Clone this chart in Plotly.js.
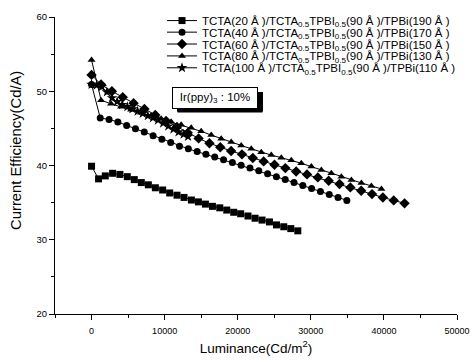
<!DOCTYPE html>
<html>
<head>
<meta charset="utf-8">
<script src="https://cdn.plot.ly/plotly-3.0.1.min.js"></script>
<style>html,body{margin:0;padding:0;background:#fff;}#chart{width:473px;height:363px;}</style>
</head>
<body>
<div id="chart"></div>
<script>
// Series 1: TCTA(20 Å) — squares
const xA = [0, 960, 1880, 2880, 3880, 4890, 5850, 6810, 7770, 8730, 9730, 10690, 11690, 12650, 13660, 14620, 15580, 16540, 17540, 18500, 19450, 20400, 21400, 22370, 23330, 24340, 25300, 26300, 27260, 28220];
const yA = [39.9, 38.2, 38.6, 38.95, 38.8, 38.5, 38.1, 37.7, 37.4, 37.0, 36.7, 36.3, 36.0, 35.7, 35.35, 35.1, 34.8, 34.5, 34.3, 34.0, 33.7, 33.5, 33.2, 32.9, 32.65, 32.4, 32.0, 31.75, 31.5, 31.2];
// Series 2: TCTA(40 Å) — circles
const xB = [0, 1190, 2395, 3600, 4805, 6010, 7215, 8420, 9625, 10830, 12035, 13240, 14445, 15650, 16855, 18060, 19265, 20470, 21675, 22880, 24085, 25290, 26495, 27700, 28905, 30110, 31315, 32520, 33725, 34930];
const yB = [50.9, 46.4, 46.2, 45.87, 45.4, 44.95, 44.5, 44.0, 43.55, 43.1, 42.6, 42.24, 41.87, 41.5, 41.14, 40.77, 40.4, 40.04, 39.67, 39.3, 38.9, 38.5, 38.1, 37.7, 37.3, 36.9, 36.5, 36.1, 35.7, 35.3];
// Series 3: TCTA(60 Å) — diamonds
const xC = [0, 1300, 2783, 4266, 5749, 7232, 8715, 10198, 11681, 13164, 14647, 16130, 17613, 19096, 20579, 22062, 23545, 25028, 26511, 27994, 29477, 30960, 32443, 33926, 35409, 36892, 38375, 39858, 41341, 42824];
const yC = [52.2, 50.9, 50.0, 49.2, 48.4, 47.6, 46.8, 46.0, 45.2, 44.4, 43.65, 43.0, 42.45, 41.95, 41.5, 41.0, 40.55, 40.1, 39.65, 39.2, 38.8, 38.4, 37.95, 37.5, 37.05, 36.6, 36.15, 35.7, 35.3, 34.9];
// Series 4: TCTA(80 Å) — triangles
const xD = [0, 1300, 2670, 4040, 5410, 6780, 8150, 9520, 10890, 12260, 13630, 15000, 16370, 17740, 19110, 20480, 21850, 23220, 24590, 25960, 27330, 28700, 30070, 31440, 32810, 34180, 35550, 36920, 38290, 39660];
const yD = [54.2, 48.8, 48.3, 47.9, 47.5, 47.1, 46.7, 46.3, 45.9, 45.5, 45.1, 44.6, 44.1, 43.6, 43.15, 42.7, 42.25, 41.8, 41.4, 41.05, 40.7, 40.3, 39.85, 39.4, 38.95, 38.5, 38.05, 37.65, 37.25, 36.85];
// Series 5: TCTA(100 Å) — stars
const xE = [0, 700, 1400, 2100, 2800, 3500, 4200, 4900, 5600, 6300, 7000, 7700, 8400, 9100, 9800, 10500, 11200, 11900, 12600, 13200];
const yE = [50.9, 50.8, 50.6, 49.9, 49.1, 48.6, 48.2, 47.9, 47.6, 47.3, 47.0, 46.7, 46.4, 46.1, 45.7, 45.3, 44.9, 44.5, 44.2, 43.9];

const seriesNames = [
  'TCTA(20 Å )/TCTA<sub>0.5</sub>TPBI<sub>0.5</sub>(90 Å )/TPBi(190 Å )',
  'TCTA(40 Å )/TCTA<sub>0.5</sub>TPBI<sub>0.5</sub>(90 Å )/TPBi(170 Å )',
  'TCTA(60 Å )/TCTA<sub>0.5</sub>TPBI<sub>0.5</sub>(90 Å )/TPBi(150 Å )',
  'TCTA(80 Å )/TCTA<sub>0.5</sub>TPBI<sub>0.5</sub>(90 Å )/TPBi(130 Å )',
  'TCTA(100 Å )/TCTA<sub>0.5</sub>TPBI<sub>0.5</sub>(90 Å )/TPBi(110 Å )'
];
const xTicks = [0, 10000, 20000, 30000, 40000, 50000];
const yTicks = [20, 30, 40, 50, 60];
const xTitle = 'Luminance(Cd/m<sup>2</sup>)';
const yTitle = 'Current Efficiency(Cd/A)';
const insetText = 'Ir(ppy)<sub>3</sub> : 10%';

const FONT = 'Liberation Sans, Arial, Helvetica, sans-serif';
const xs = [xA, xB, xC, xD, xE];
const ys = [yA, yB, yC, yD, yE];
const symbols = ['square', 'circle', 'diamond', 'triangle-up', 'star'];
const sizes = [7, 7, 8, 7, 8];
const legendIds = ['legend', 'legend2', 'legend3', 'legend4', 'legend5'];

const traces = xs.map((x, i) => ({
  x: x, y: ys[i], name: seriesNames[i], type: 'scatter', mode: 'lines+markers',
  line: {color: '#000', width: 1},
  marker: {symbol: symbols[i], size: sizes[i], color: '#000'},
  legend: legendIds[i]
}));

const layout = {
  width: 473, height: 363,
  margin: {l: 55, r: 16, t: 17, b: 49, autoexpand: false},
  paper_bgcolor: '#fff', plot_bgcolor: '#fff',
  font: {family: FONT, color: '#000'},
  xaxis: {
    range: [-5000, 50000], tickvals: xTicks, ticktext: xTicks.map(String),
    showline: true, linecolor: '#000', linewidth: 1, mirror: false,
    showgrid: false, zeroline: false, ticks: 'outside', ticklen: 5, tickcolor: '#000',
    tickfont: {size: 9, family: FONT}, ticklabelstandoff: 3, automargin: false,
    minor: {dtick: 5000, tick0: 0, ticks: 'outside', ticklen: 3, tickcolor: '#000', showgrid: false},
    title: {text: xTitle, font: {size: 13.5, family: FONT}, standoff: 8}
  },
  yaxis: {
    range: [20, 60], tickvals: yTicks, ticktext: yTicks.map(String),
    showline: true, linecolor: '#000', linewidth: 1, mirror: false,
    showgrid: false, zeroline: false, ticks: 'outside', ticklen: 5, tickcolor: '#000',
    tickfont: {size: 9.5, family: FONT}, automargin: false,
    minor: {dtick: 5, tick0: 20, ticks: 'outside', ticklen: 3, tickcolor: '#000', showgrid: false}
  },
  shapes: [{
    type: 'rect', xref: 'paper', yref: 'paper', x0: 0.3035, x1: 0.5174, y0: 0.6818, y1: 0.7475,
    fillcolor: '#000', line: {width: 0}, layer: 'above'
  }],
  annotations: [{
    xref: 'paper', yref: 'paper', x: 0.2918, y: 0.7643, xanchor: 'left', yanchor: 'top',
    text: insetText, showarrow: false,
    font: {size: 11.5, family: FONT, color: '#000'},
    bgcolor: '#fff', bordercolor: '#000', borderwidth: 1, width: 82, height: 18
  }, {
    xref: 'paper', yref: 'paper', x: -0.097, y: 0.549, xanchor: 'center', yanchor: 'middle',
    text: yTitle, textangle: -90, showarrow: false,
    font: {size: 14.8, family: FONT, color: '#000'}
  }],
  showlegend: true
};
const rowY = [0.988, 0.949, 0.909, 0.869, 0.829];
legendIds.forEach((id, i) => {
  layout[id] = {
    x: 0.2662, xanchor: 'left', y: rowY[i], yanchor: 'middle',
    bgcolor: 'rgba(0,0,0,0)', borderwidth: 0, itemwidth: 30,
    font: {size: 11.5, family: FONT, color: '#000'}
  };
});

Plotly.newPlot('chart', traces, layout, {staticPlot: true, displayModeBar: false}).then(gd => {
  // drop shadow directly behind the inset box, placed from the box Plotly drew
  try {
    const groups = gd.querySelectorAll('.annotation');
    groups.forEach(g => {
      if (g.textContent.indexOf('Ir(') !== 0) return;
      const bg = g.querySelector('rect.bg');
      const svg = g.ownerSVGElement;
      if (!bg || !svg) return;
      const b = bg.getBoundingClientRect();
      const s = svg.getBoundingClientRect();
      const r = document.createElementNS('http://www.w3.org/2000/svg', 'rect');
      r.setAttribute('x', b.left - s.left + 5);
      r.setAttribute('y', b.top - s.top + 5);
      r.setAttribute('width', b.width);
      r.setAttribute('height', b.height - 1);
      r.setAttribute('fill', '#000');
      g.parentNode.insertBefore(r, g);
    });
  } catch (e) {}
});
</script>
</body>
</html>
